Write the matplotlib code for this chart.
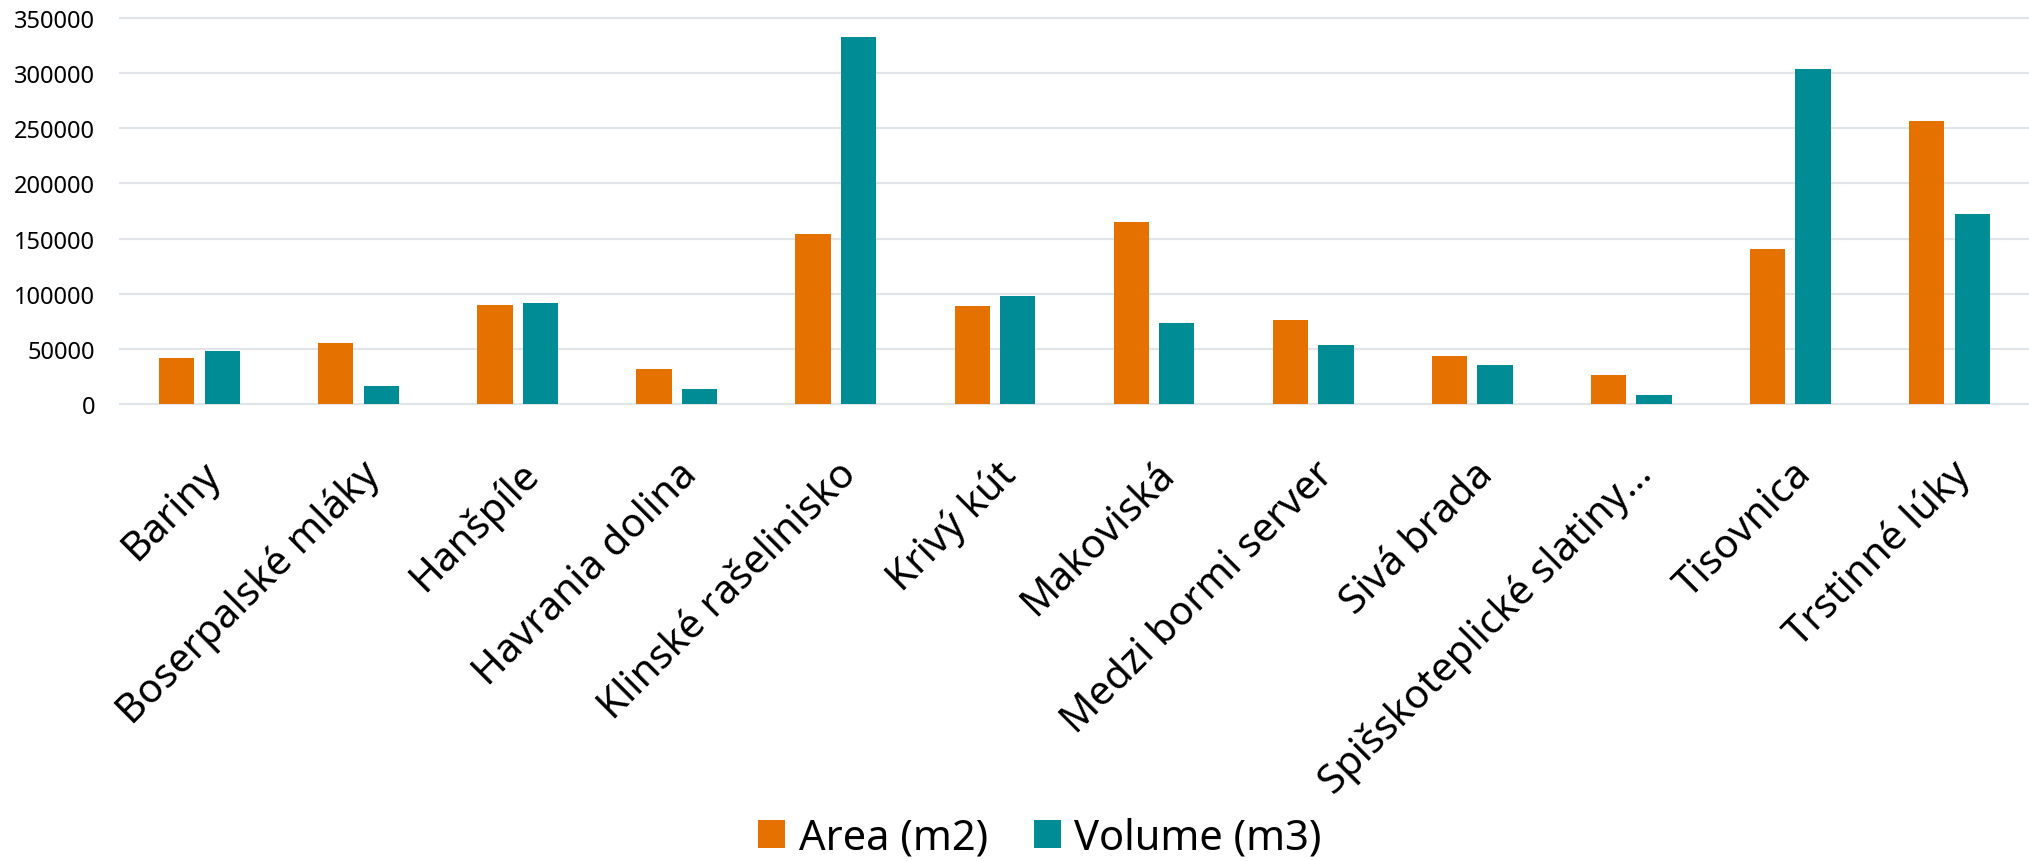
import numpy as np
import matplotlib
matplotlib.use("Agg")
import matplotlib.pyplot as plt
from matplotlib.transforms import ScaledTranslation

plt.rcParams['font.family'] = ['Noto Sans', 'DejaVu Sans']

# data
sites = ['Bariny', 'Boserpalské mláky', 'Hanšpíle', 'Havrania dolina',
         'Klinské rašelinisko', 'Krivý kút', 'Makoviská', 'Medzi bormi server',
         'Sivá brada', 'Spišskoteplické slatiny…', 'Tisovnica', 'Trstinné lúky']
area = [42000, 56000, 90000, 32000, 154000, 89000,
        165000, 76500, 44000, 26500, 140500, 256000]
volume = [48000, 16500, 92000, 14000, 332000, 98000,
          74000, 53500, 36000, 9000, 303000, 172000]
yticks = [0, 50000, 100000, 150000, 200000, 250000, 300000, 350000]

orange = '#E57200'
teal = '#008C95'
grid_col = '#E1E5EA'

fig = plt.figure(figsize=(20.29, 8.62), dpi=100)
ax = fig.add_axes([0.0591, 0.5296, 0.9409, 0.4489])

x = np.arange(len(sites))
w = 0.222
off = 0.143
ax.bar(x - off, area, w, color=orange, label='Area (m2)', zorder=2)
ax.bar(x + off, volume, w, color=teal, label='Volume (m3)', zorder=2)

ax.set_xlim(-0.5, len(sites) - 0.5)
ax.set_ylim(0, 350000)
for t in yticks:
    ax.axhline(t, color=grid_col, lw=1.6, zorder=0, clip_on=False)

ax.set_yticks(yticks)
ax.set_yticklabels([str(t) for t in yticks], fontsize=17)
ax.tick_params(axis='y', length=0, pad=18)
ax.set_xticks(x)
ax.set_xticklabels(sites, rotation=45, ha='right', va='center',
                   rotation_mode='anchor', fontsize=29)
ax.tick_params(axis='x', length=0, pad=40)
# nudge labels a little right/down like the original
shift = ScaledTranslation(0.15, -0.08, fig.dpi_scale_trans)
for lab in ax.get_xticklabels():
    lab.set_transform(lab.get_transform() + shift)

for s in ax.spines.values():
    s.set_visible(False)

fig.legend(loc='center', bbox_to_anchor=(0.5125, 0.027), ncol=2,
           frameon=False, fontsize=30, handlelength=0.65, handleheight=0.65,
           handletextpad=0.32, columnspacing=1.1, borderaxespad=0)

fig.savefig('out.png', dpi=100)
